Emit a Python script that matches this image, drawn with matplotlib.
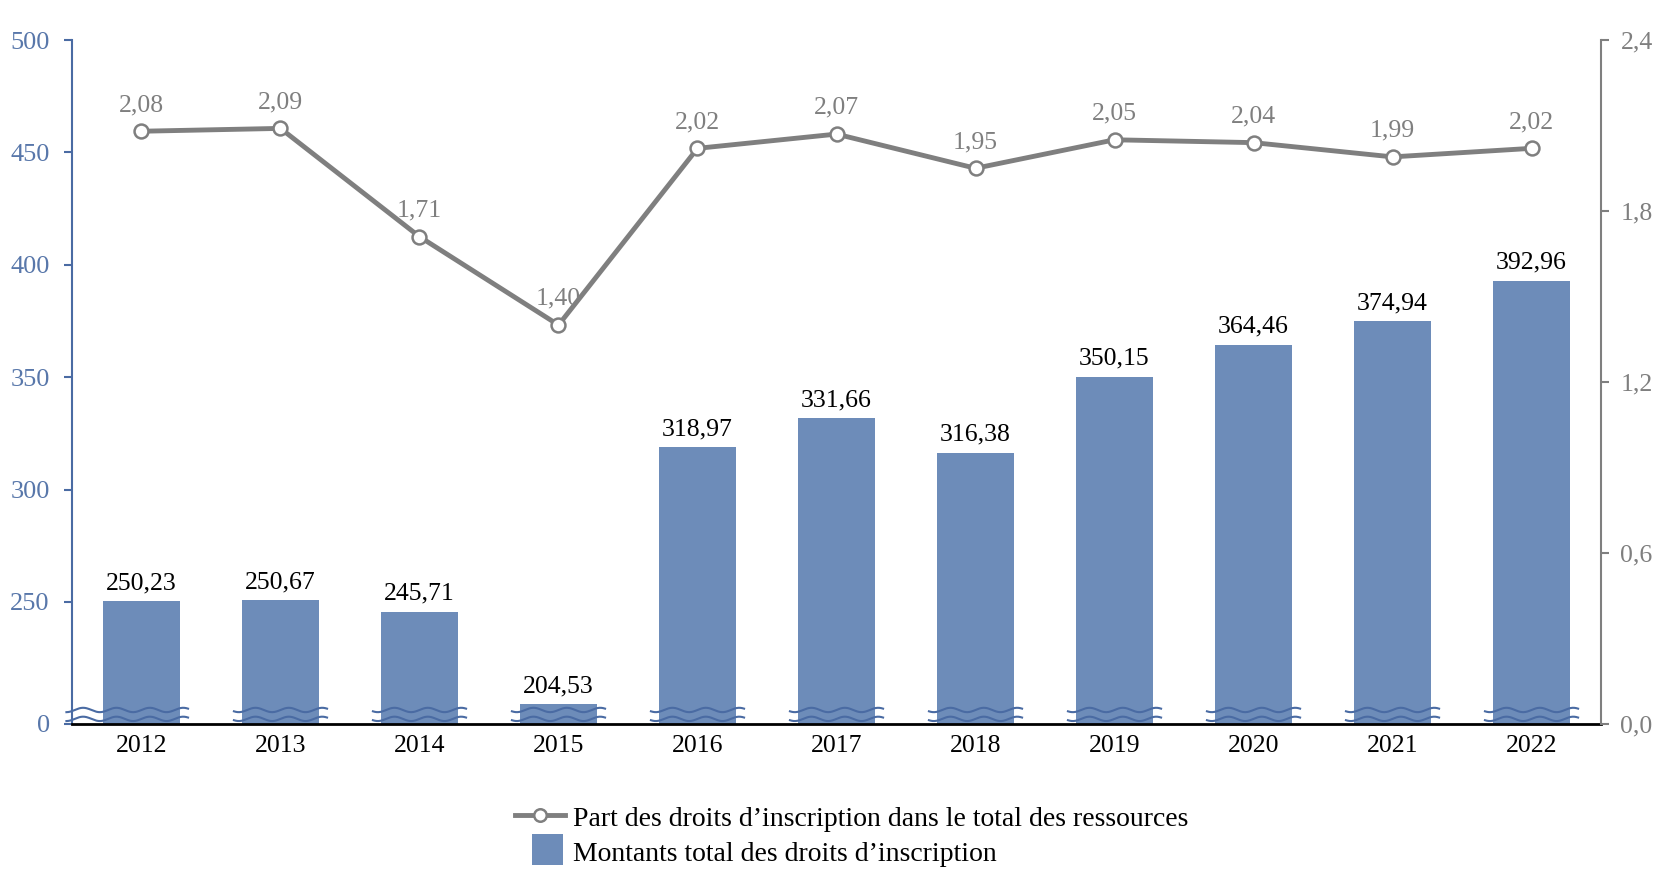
import numpy as np
import matplotlib
matplotlib.use("Agg")
import matplotlib.pyplot as plt
from matplotlib.lines import Line2D
from matplotlib.patches import Patch, Rectangle
from matplotlib.legend_handler import HandlerPatch

plt.rcParams["font.family"] = ["Liberation Serif", "DejaVu Serif"]

years = ["2012", "2013", "2014", "2015", "2016", "2017", "2018", "2019", "2020", "2021", "2022"]
montants = [250.23, 250.67, 245.71, 204.53, 318.97, 331.66, 316.38, 350.15, 364.46, 374.94, 392.96]
part = [2.08, 2.09, 1.71, 1.40, 2.02, 2.07, 1.95, 2.05, 2.04, 1.99, 2.02]
left_ticks = [250, 300, 350, 400, 450, 500]
right_ticks = [0.0, 0.6, 1.2, 1.8, 2.4]

bar_color = "#6d8cb9"
blue_axis = "#4a6ba3"
blue_text = "#5877aa"
gray = "#7f7f7f"

def fr(v, nd):
    return f"{v:.{nd}f}".replace(".", ",")

fig = plt.figure(figsize=(16.7, 8.84), dpi=100)
ax = fig.add_axes([0.0431, 0.181, 0.9156, 0.7737])
x = np.arange(len(years))

# broken axis: bottom of the scale is shown as "0"
y_bottom = 195.7
ax.bar(x, montants, width=0.55, color=bar_color, zorder=2)
ax.set_ylim(y_bottom, 500)
ax.set_xlim(-0.5, len(years) - 0.5)
for xi, v in zip(x, montants):
    ax.annotate(fr(v, 2), (xi, v), xytext=(0, 5), textcoords="offset points",
                ha="center", va="bottom", fontsize=18.5, color="black")

ax.set_yticks([y_bottom] + left_ticks)
ax.set_yticklabels(["0"] + [str(t) for t in left_ticks])
ax.tick_params(axis="y", colors=blue_axis, labelcolor=blue_text, labelsize=19, length=6, width=1.5, pad=10)
ax.tick_params(axis="x", length=0, labelsize=18.5, pad=8, labelcolor="black")
ax.set_xticks(x)
ax.set_xticklabels(years)
for s in ["top", "right"]:
    ax.spines[s].set_visible(False)
ax.spines["left"].set_color(blue_axis)
ax.spines["left"].set_linewidth(1.5)
ax.spines["bottom"].set_color("black")
ax.spines["bottom"].set_linewidth(2)
ax.spines["bottom"].set_zorder(5)

# wavy break marks on each bar
trans = ax.get_xaxis_transform()
for i, xi in enumerate(x):
    x0 = xi - 0.275 - 0.06
    if i == 0:
        x0 = -0.5 - 0.04
    xs = np.linspace(x0, xi + 0.275 + 0.06, 200)
    for yb in (0.0205, 0.0075):
        ys = yb + 0.0032 * np.sin((xs - xi) * 2 * np.pi / 0.24)
        ax.plot(xs, ys, color=blue_axis, lw=1.5, transform=trans, zorder=3, clip_on=False)

ax2 = ax.twinx()
ax2.plot(x, part, color=gray, lw=3.5, marker="o", markersize=10,
         markerfacecolor="white", markeredgecolor=gray, markeredgewidth=1.8, zorder=4)
for xi, v in zip(x, part):
    ax2.annotate(fr(v, 2), (xi, v), xytext=(0, 11), textcoords="offset points",
                 ha="center", va="bottom", fontsize=18.5, color=gray)
ax2.set_ylim(0, 2.4)
ax2.set_yticks(right_ticks)
ax2.set_yticklabels([fr(t, 1) for t in right_ticks])
ax2.tick_params(axis="y", colors=gray, labelsize=18.5, length=6, width=1.5, pad=8)
for s in ["top", "left", "bottom"]:
    ax2.spines[s].set_visible(False)
ax2.spines["right"].set_color(gray)
ax2.spines["right"].set_linewidth(1.5)


def square_patch(legend, orig_handle, xdescent, ydescent, width, height, fontsize):
    side = height * 1.25
    return Rectangle((xdescent + width - side - 1, ydescent + (height - side) / 2 - 0.15 * height), side, side)


handles = [
    Line2D([0], [0], color=gray, lw=3.5, marker="o", markersize=9,
           markerfacecolor="white", markeredgecolor=gray, markeredgewidth=1.8),
    Patch(facecolor=bar_color, edgecolor="none"),
]
labels = ["Part des droits d\u2019inscription dans le total des ressources",
          "Montants total des droits d\u2019inscription"]
fig.legend(handles, labels, loc="center", bbox_to_anchor=(0.51, 0.055), ncol=1,
           frameon=False, fontsize=20, handlelength=1.8, handleheight=1.0,
           handletextpad=0.3, labelspacing=0.25, alignment="left",
           handler_map={Patch: HandlerPatch(patch_func=square_patch)})

fig.savefig("out.png", dpi=100)
